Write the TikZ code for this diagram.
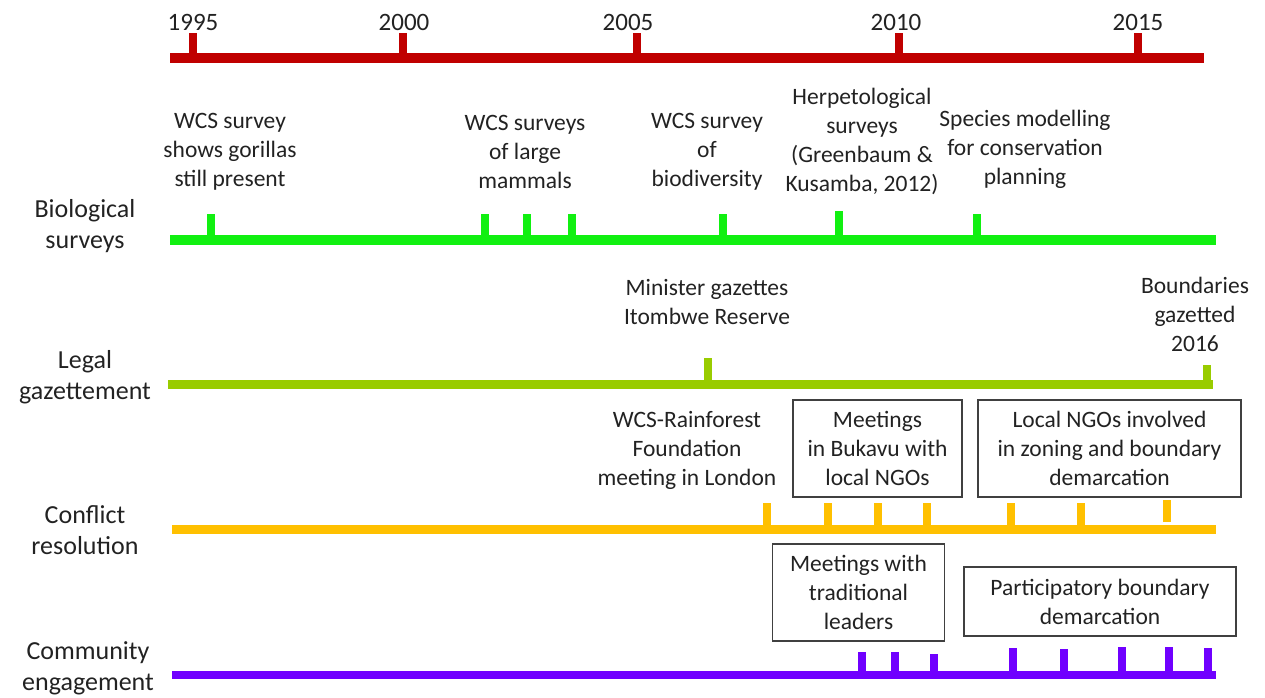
\documentclass[tikz,border=0pt]{standalone}
\usepackage{fontspec}
\setmainfont{Carlito}
\definecolor{tlred}{HTML}{C00000}
\definecolor{tlgreen}{HTML}{11F011}
\definecolor{tllegal}{HTML}{99CC00}
\definecolor{tlorange}{HTML}{FFC000}
\definecolor{tlpurple}{HTML}{7000FF}
\definecolor{txt}{HTML}{222222}
\begin{document}
\begin{tikzpicture}[x=1pt,y=-1pt,
  evt/.style={align=center,text=txt,inner sep=0pt,font=\fontsize{23.5}{29}\selectfont},
  yr/.style={text=txt,inner sep=0pt,font=\fontsize{25}{30}\selectfont},
  rowlab/.style={align=center,text=txt,inner sep=0pt,font=\fontsize{26}{31}\selectfont},
  evbox/.style={draw=black!75,line width=1.3pt,minimum height=97pt,inner sep=0pt},
  axis/.style={line width=#1},
  tickmark/.style={line width=8pt}]
\useasboundingbox (0,0) rectangle (1265,697);
% ---------- year axis
\draw[tlred,axis=10pt] (170,58) -- (1204,58);
\foreach \x/\t/\lx in {193/1995/193, 403/2000/404, 637/2005/628, 899/2010/896, 1138/2015/1138}{
  \draw[tlred,tickmark] (\x,58) -- (\x,33);
  \node[yr] (y\t) at (\lx,22) {\t};
}
% ---------- row labels
\node[rowlab] (lbio) at (85,226) {Biological\\surveys};
\node[rowlab] (lleg) at (85,377) {Legal\\gazettement};
\node[rowlab] (lcon) at (85,530) {Conflict\\resolution};
\node[rowlab] (lcom) at (88,668) {Community\\engagement};
% ---------- biological surveys
\draw[tlgreen,axis=10pt] (170,240) -- (1216,240);
\foreach \x/\t in {211/214, 485/214, 527/214, 572/214, 723/214, 839/211, 977/214}{
  \draw[tlgreen,tickmark] (\x,240) -- (\x,\t);
}
\node[evt] (b1) at (230,152) {WCS survey\\shows gorillas\\still present};
\node[evt] (b2) at (525,152) {WCS surveys\\of large\\mammals};
\node[evt] (b3) at (707,152) {WCS survey\\of\\biodiversity};
\node[evt] (b4) at (862,141) {Herpetological\\surveys\\(Greenbaum \&\\Kusamba, 2012)};
\node[evt] (b5) at (1025,149) {Species modelling\\for conservation\\planning};
% ---------- legal gazettement
\draw[tllegal,axis=9pt] (168,384) -- (1213,384);
\draw[tllegal,tickmark] (708,384) -- (708,358);
\draw[tllegal,tickmark] (1207,384) -- (1207,365);
\node[evt] (g1) at (707,302) {Minister gazettes\\Itombwe Reserve};
\node[evt] (g2) at (1195,314) {Boundaries\\gazetted\\2016};
% ---------- conflict resolution
\draw[tlorange,axis=9pt] (172,529) -- (1216,529);
\foreach \x in {767, 828, 878, 927, 1011, 1081}{
  \draw[tlorange,tickmark] (\x,529) -- (\x,503);
}
\draw[tlorange,tickmark] (1167,522) -- (1167,500);
\node[evt] (c1) at (687,450) {WCS-Rainforest\\Foundation\\meeting in London};
\node[evbox,minimum width=169pt] (c2box) at (877.5,448.5) {};
\node[evt] (c2) at (c2box.center) {Meetings\\in Bukavu with\\local NGOs};
\node[evbox,minimum width=263pt] (c3box) at (1109.5,448.5) {};
\node[evt] (c3) at (c3box.center) {Local NGOs involved\\in zoning and boundary\\demarcation};
% ---------- community engagement
\draw[tlpurple,axis=8pt] (172,675) -- (1216,675);
\foreach \x/\t in {862/652, 895/652, 934/654, 1013/648, 1064/649, 1122/647, 1169/647, 1208/648}{
  \draw[tlpurple,tickmark] (\x,675) -- (\x,\t);
}
\node[evbox,minimum width=172pt] (m1box) at (858.5,592.5) {};
\node[evt] (m1) at (m1box.center) {Meetings with\\traditional\\leaders};
\node[evbox,minimum width=272pt,minimum height=69pt] (m2box) at (1100,601.5) {};
\node[evt] (m2) at (m2box.center) {Participatory boundary\\demarcation};
\end{tikzpicture}
\end{document}
